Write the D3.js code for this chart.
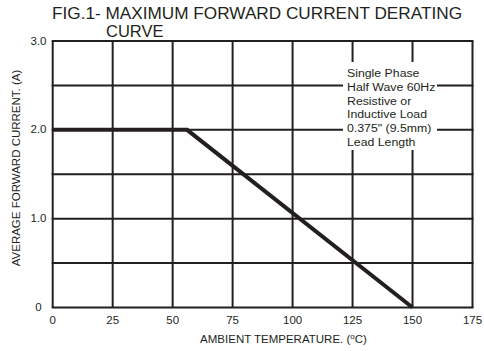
<!DOCTYPE html>
<html>
<head>
<meta charset="utf-8">
<script src="https://cdn.jsdelivr.net/npm/d3@7"></script>
<style>
  html, body { margin: 0; padding: 0; background: #fff; }
  svg { display: block; font-family: "Liberation Sans", Arial, sans-serif; }
</style>
</head>
<body>
<svg id="chart" width="484" height="351"></svg>
<script>
// Derating curve: maximum average forward current vs. ambient temperature
const temperature = [0, 56, 150];          // °C
const forwardCurrent = [2.0, 2.0, 0];      // A

const xTicks = [0, 25, 50, 75, 100, 125, 150, 175];
const yGrid = [0, 0.5, 1.0, 1.5, 2.0, 2.5, 3.0];
const yTickLabels = [
  { v: 0, t: "0" },
  { v: 1.0, t: "1.0" },
  { v: 2.0, t: "2.0" },
  { v: 3.0, t: "3.0" }
];
const titleLines = ["FIG.1- MAXIMUM FORWARD CURRENT DERATING", "CURVE"];
const noteLines = ["Single Phase", "Half Wave 60Hz", "Resistive or", "Inductive Load", "0.375\" (9.5mm)", "Lead Length"];

const ink = "#231f20";
const svg = d3.select("#chart");

const x = d3.scaleLinear().domain([0, 175]).range([52.7, 472.5]);
const y = d3.scaleLinear().domain([0, 3]).range([307.5, 41]);

// title
svg.append("text").attr("x", 52).attr("y", 18.5)
  .attr("font-size", 16.5).attr("fill", ink)
  .attr("textLength", 410).attr("lengthAdjust", "spacingAndGlyphs")
  .text(titleLines[0]);
svg.append("text").attr("x", 106).attr("y", 36.5)
  .attr("font-size", 16.5).attr("fill", ink).text(titleLines[1]);

// grid
const grid = svg.append("g").attr("stroke", ink).attr("stroke-width", 2);
grid.selectAll("line.v").data(xTicks).join("line").attr("class", "v")
  .attr("x1", d => x(d)).attr("x2", d => x(d))
  .attr("y1", y(3)).attr("y2", y(0));
grid.selectAll("line.h").data(yGrid).join("line").attr("class", "h")
  .attr("x1", x(0) - 1).attr("x2", x(175) + 1)
  .attr("y1", d => y(d)).attr("y2", d => y(d));

// x tick labels
svg.append("g").selectAll("text").data(xTicks).join("text")
  .attr("x", d => x(d)).attr("y", 323.5)
  .attr("text-anchor", "middle").attr("font-size", 11.5).attr("fill", ink)
  .text(d => d);

// y tick labels
svg.append("g").selectAll("text").data(yTickLabels).join("text")
  .attr("x", 38.5).attr("y", d => y(d.v) + 3.5)
  .attr("text-anchor", "middle").attr("font-size", 11.5).attr("fill", ink)
  .text(d => d.t);

// axis titles
const xt = svg.append("text").attr("x", 283.5).attr("y", 343)
  .attr("text-anchor", "middle").attr("font-size", 11.5).attr("fill", ink);
xt.append("tspan").text("AMBIENT TEMPERATURE. (");
xt.append("tspan").attr("font-size", 8).attr("dy", -4).text("o");
xt.append("tspan").attr("dy", 4).text("C)");

svg.append("text")
  .attr("transform", "translate(20,168) rotate(-90)")
  .attr("text-anchor", "middle").attr("font-size", 11.5).attr("fill", ink)
  .text("AVERAGE FORWARD CURRENT. (A)");

// derating curve
const line = d3.line().x(d => x(d[0])).y(d => y(d[1]));
svg.append("path")
  .datum(d3.zip(temperature, forwardCurrent))
  .attr("d", line)
  .attr("fill", "none").attr("stroke", ink).attr("stroke-width", 4)
  .attr("stroke-linejoin", "miter");

// conditions note
svg.append("rect").attr("x", 343).attr("y", 62).attr("width", 94).attr("height", 88)
  .attr("fill", "#fff");
svg.append("g").attr("transform", "translate(347,0) scale(1.12,1)")
  .selectAll("text").data(noteLines).join("text")
  .attr("x", 0).attr("y", (d, i) => 77 + i * 13.8)
  .attr("font-size", 11).attr("fill", ink)
  .text(d => d);
</script>
</body>
</html>
